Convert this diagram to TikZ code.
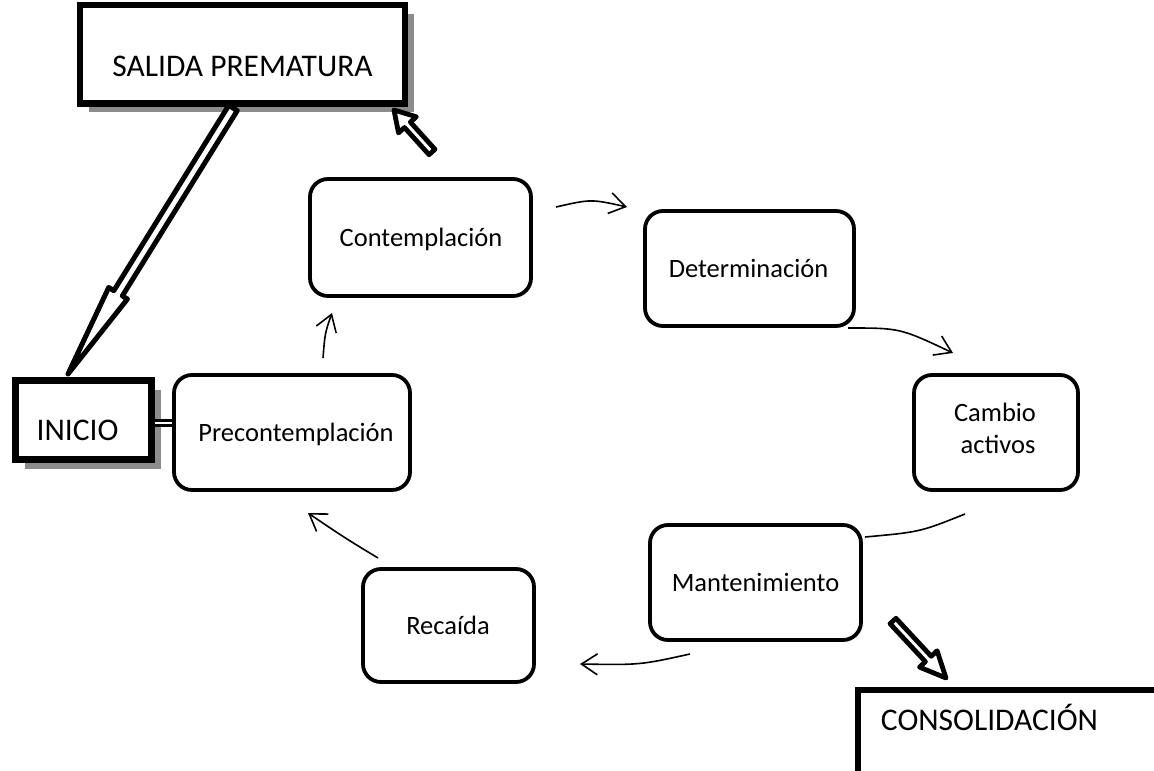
\documentclass[tikz,border=0pt]{standalone}
\usepackage{fontspec}
\setmainfont{Carlito}
\usetikzlibrary{calc,arrows.meta,shadows}

\newcommand\blockarr[6]{%
  \coordinate (#6b) at ($(#2)!#5!(#1)$);
  \draw[blockarrow] ($(#1)!#3!90:(#2)$) -- ($(#6b)!#3!90:(#2)$) -- ($(#6b)!#4!90:(#2)$) -- (#2)
     -- ($(#6b)!#4!-90:(#2)$) -- ($(#6b)!#3!-90:(#2)$) -- ($(#1)!#3!-90:(#2)$) -- cycle;}

\begin{document}
\begin{tikzpicture}[x=1pt,y=-1pt,
  stage/.style={draw, line width=3.8pt, rounded corners=18pt, fill=white, inner sep=0pt},
  bigbox/.style={draw, line width=6.5pt, fill=white, inner sep=0pt},
  shadowed/.style={drop shadow={shadow xshift=9pt, shadow yshift=-9pt, fill=black!45, opacity=1}},
  lbl/.style={font=\fontsize{26.5}{32}\selectfont, inner sep=0pt, anchor=base},
  biglbl/.style={font=\fontsize{31.5}{38}\selectfont, inner sep=0pt, anchor=base},
  flow/.style={line width=1.6pt, -{Straight Barb[length=16pt, width=21pt, line width=1.6pt]}},
  plainflow/.style={line width=1.6pt},
  blockarrow/.style={draw, fill=white, line width=5pt, line join=round},
  dbl/.style={double, double distance=2.2pt, line width=2.5pt}
]
\useasboundingbox (0,0) rectangle (1154,771);

% big boxes
\node[bigbox, shadowed, minimum width=325pt, minimum height=98.5pt] (salida) at (242.5,54) {};
\node[bigbox, shadowed, line width=7pt, minimum width=136pt, minimum height=79pt] (inicio) at (83.5,420) {};
\node[bigbox, line width=6pt, minimum width=342pt, minimum height=110pt] (consol) at (1029,745) {};

% stage boxes
\node[stage, minimum width=221pt, minimum height=117pt] (contemp) at (420.5,237.5) {};
\node[stage, minimum width=209pt, minimum height=115pt] (determ) at (749.5,268.5) {};
\node[stage, minimum width=164pt, minimum height=115pt] (cambio) at (996,432.5) {};
\node[stage, minimum width=236pt, minimum height=115pt] (precont) at (292,432.5) {};
\node[stage, minimum width=211pt, minimum height=115pt] (manten) at (755.5,582.5) {};
\node[stage, minimum width=171pt, minimum height=113pt] (recaida) at (448.5,625.5) {};

% labels
\node[biglbl] (tsalida) at (242.5,76) {SALIDA PREMATURA};
\node[biglbl] (tinicio) at (77.5,440) {INICIO};
\node[biglbl] (tconsol) at (989.5,730) {CONSOLIDACIÓN};
\node[lbl] (tcontemp) at (421,246) {Contemplación};
\node[lbl] (tdeterm) at (748.5,277) {Determinación};
\node[lbl] (tcambio1) at (995,421) {Cambio};
\node[lbl] (tcambio2) at (998,453) {activos};
\node[lbl] (tprecont) at (296,441) {Precontemplación};
\node[lbl] (tmanten) at (755.5,591) {Mantenimiento};
\node[lbl] (trecaida) at (448,634) {Recaída};

% double connector INICIO = Precontemplacion
\draw[dbl] ([yshift=-3pt]inicio.east) -- ([yshift=-3pt]inicio.east -| precont.west);

% thin flow arrows
\coordinate (f1a) at (556,207); \coordinate (f1b) at (627,207);
\coordinate (f2a) at (848,328); \coordinate (f2b) at (953,353);
\coordinate (f3a) at (965,514); \coordinate (f3b) at (865,537);
\coordinate (f4a) at (690,654); \coordinate (f4b) at (580,664);
\coordinate (f5a) at (378,558); \coordinate (f5b) at (308,513);
\coordinate (f6a) at (323,358); \coordinate (f6b) at (332,313);
\draw[flow] (f1a) .. controls (591,199) .. (f1b);
\draw[flow] (f2a) .. controls (900,328) .. (f2b);
\draw[plainflow] (f3a) .. controls (920,532) .. (f3b);
\draw[flow] (f4a) .. controls (640,665) .. (f4b);
\draw[flow] (f5a) .. controls (345,538) .. (f5b);
\draw[flow] (f6a) .. controls (325,333) .. (f6b);

% block arrows
\coordinate (b1a) at (233,108); \coordinate (b1b) at (68,374);
\coordinate (b2a) at (432,152); \coordinate (b2b) at (394,110);
\coordinate (b3a) at (893,621); \coordinate (b3b) at (946,678);
\blockarr{b1a}{b1b}{5pt}{11pt}{95pt}{ba}
\begin{scope}[blockarrow/.append style={line width=4.8pt}]
\blockarr{b2a}{b2b}{4pt}{12pt}{20pt}{bb}
\blockarr{b3a}{b3b}{4pt}{12pt}{26pt}{bc}
\end{scope}
\end{tikzpicture}
\end{document}
